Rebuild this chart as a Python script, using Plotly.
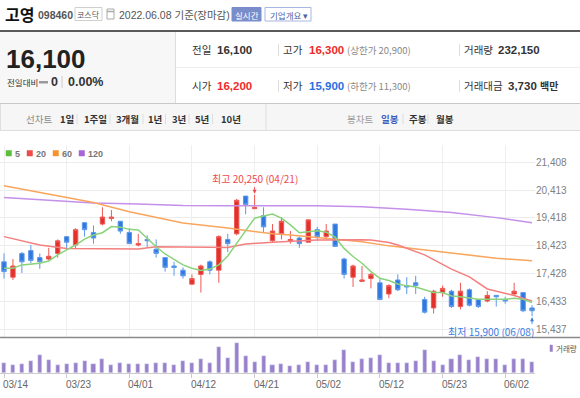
import plotly.graph_objects as go

# ---------------- data ----------------
dates = [
    "2022-03-14", "2022-03-15", "2022-03-16", "2022-03-17", "2022-03-18",
    "2022-03-21", "2022-03-22", "2022-03-23", "2022-03-24", "2022-03-25",
    "2022-03-28", "2022-03-29", "2022-03-30", "2022-03-31", "2022-04-01",
    "2022-04-04", "2022-04-05", "2022-04-06", "2022-04-07", "2022-04-08",
    "2022-04-11", "2022-04-12", "2022-04-13", "2022-04-14", "2022-04-15",
    "2022-04-18", "2022-04-19", "2022-04-20", "2022-04-21", "2022-04-22",
    "2022-04-25", "2022-04-26", "2022-04-27", "2022-04-28", "2022-04-29",
    "2022-05-02", "2022-05-03", "2022-05-04", "2022-05-06",
    "2022-05-09", "2022-05-10", "2022-05-11", "2022-05-12", "2022-05-13",
    "2022-05-16", "2022-05-17", "2022-05-18", "2022-05-19", "2022-05-20",
    "2022-05-23", "2022-05-24", "2022-05-25", "2022-05-26", "2022-05-27",
    "2022-05-30", "2022-05-31", "2022-06-02", "2022-06-03",
    "2022-06-07", "2022-06-08",
]
opens = [17850, 17300, 18150, 18250, 18000, 17950, 18150, 18750, 18450, 19250,
         18900, 19200, 19400, 19300, 18900, 18450, 18650, 18300, 18000, 17700,
         17550, 17050, 17400, 17850, 17550, 18650, 18850, 20200, 19750, 19500,
         18600, 18850, 18600, 18700, 18550, 19000, 18750, 19200, 17950, 17300,
         17150, 17250, 17100, 16700, 17200, 17000, 17100, 16500, 16200, 16750,
         16800, 16250, 16850, 16500, 16450, 16650, 16500, 16700, 16750, 16200]
highs = [18150, 17950, 18200, 18450, 18150, 18350, 18650, 18750, 19050, 19250,
         19150, 19800, 19700, 19300, 19050, 18850, 18800, 18650, 18000, 17850,
         17650, 17400, 17750, 17900, 18800, 18850, 20100, 20200, 20250, 19800,
         19200, 19450, 18950, 18750, 19350, 19100, 19200, 19200, 18000, 17750,
         17700, 17450, 17250, 17050, 17400, 17300, 17350, 16600, 16850, 17000,
         16850, 17100, 16900, 16500, 16800, 16650, 16600, 17100, 16750, 16300]
lows = [17250, 17200, 17450, 17800, 17600, 17900, 18000, 18300, 18300, 18750,
        18500, 19150, 19300, 18850, 18500, 18400, 18350, 18000, 17500, 17350,
        17250, 17050, 16750, 17400, 17100, 18200, 18800, 19550, 19750, 18900,
        18550, 18650, 18500, 18350, 18550, 18600, 18700, 18400, 17250, 16950,
        17150, 16900, 16500, 16550, 16800, 16700, 16700, 16000, 16000, 16600,
        16200, 16150, 16250, 16200, 16400, 16250, 16350, 16650, 16050, 15900]
closes = [17500, 17700, 17850, 17900, 17850, 18050, 18600, 18550, 19000, 19000,
          18700, 19450, 19450, 18950, 18500, 18500, 18600, 18150, 17650, 17650,
          17350, 17250, 17700, 17550, 18750, 18500, 20050, 19900, 19800, 19100,
          18950, 19300, 18650, 18500, 19350, 18750, 18950, 18400, 17400, 17700,
          17200, 17400, 16500, 17000, 16850, 16950, 17000, 16050, 16800, 16900,
          16250, 16800, 16300, 16250, 16650, 16600, 16450, 16800, 16100, 16100]
volumes = [212000, 159000, 179000, 245000, 365000, 265000, 159000, 179000, 199000, 245000,
           179000, 285000, 159000, 199000, 179000, 179000, 179000, 199000, 212000, 159000,
           245000, 199000, 285000, 199000, 517000, 312000, 597000, 352000, 232000, 345000,
           159000, 179000, 146000, 159000, 232000, 159000, 159000, 265000, 464000, 232000,
           285000, 298000, 365000, 199000, 212000, 212000, 245000, 464000, 245000, 159000,
           285000, 365000, 265000, 332000, 285000, 285000, 159000, 285000, 285000, 232150]

ma5 = [17620, 17620, 17740, 17770, 17800, 17880, 18100, 18280, 18450, 18660,
       18810, 18890, 19110, 19090, 19010, 18990, 18690, 18390, 18130, 17920,
       17740, 17620, 17540, 17590, 17740, 18060, 18510, 18990, 19410, 19490,
       19560, 19410, 19170, 18890, 18930, 18960, 18910, 18730, 18330, 18040,
       17800, 17500, 17260, 17180, 17060, 16990, 16950, 16850, 16750, 16750,
       16630, 16600, 16550, 16510, 16510, 16510, 16510, 16550, 16510, 16390]
ma20_idx = [0, 4, 7, 10, 15, 17, 20, 23, 25, 27, 30, 35, 40, 41, 43, 44, 47, 50, 52, 54, 57, 59]
ma20_val = [18750, 18450, 18330, 18320, 18310, 18390, 18390, 18370, 18360, 18490, 18550,
            18630, 18640, 18630, 18540, 18450, 18100, 17590, 17310, 16880, 16645, 16450]
ma60_idx = [0, 10, 14, 20, 25, 30, 32, 37, 40, 43, 49, 55, 59]
ma60_val = [20570, 19970, 19640, 19240, 19060, 18850, 18810, 18670, 18570, 18420, 18200, 17980, 17890]
ma120_idx = [0, 5, 10, 15, 20, 25, 30, 35, 40, 45, 50, 55, 59]
ma120_val = [20150, 20040, 19950, 19920, 19860, 19850, 19850, 19850, 19820, 19730, 19610, 19430, 19250]

tick_idx = [0, 7, 14, 21, 28, 35, 42, 49, 56]
tick_labels = ["03/14", "03/23", "04/01", "04/12", "04/21", "05/02", "05/12", "05/23", "06/02"]
price_ticks = [15437, 16433, 17428, 18423, 19418, 20413, 21408]

# ---------------- layout helpers ----------------
W, H = 580, 398
FONT = "Liberation Sans, Noto Sans CJK KR, sans-serif"
KFONT = "Noto Sans CJK KR, Liberation Sans, sans-serif"


def px(x):
    return x / W


def py(y):
    return 1 - y / H


fig = go.Figure()

fig.add_trace(go.Candlestick(
    x=dates, open=opens, high=highs, low=lows, close=closes,
    increasing=dict(line=dict(color="#ee5a55", width=1), fillcolor="#e2302b"),
    decreasing=dict(line=dict(color="#5d98ea", width=1), fillcolor="#2f78e0"),
    whiskerwidth=0, showlegend=False, hoverinfo="skip", xaxis="x", yaxis="y"))

ma_specs = [
    ([dates[i] for i in ma120_idx], ma120_val, "#c490ea"),
    ([dates[i] for i in ma60_idx], ma60_val, "#f9a55c"),
    ([dates[i] for i in ma20_idx], ma20_val, "#f47f7f"),
    (dates, ma5, "#8ad37a"),
]
for xs, ys, col in ma_specs:
    fig.add_trace(go.Scatter(x=xs, y=ys, mode="lines", line=dict(color=col, width=1.5),
                             showlegend=False, hoverinfo="skip", xaxis="x", yaxis="y"))

fig.add_trace(go.Bar(x=dates, y=volumes, marker_color="#9a80cb", width=0.45,
                     showlegend=False, hoverinfo="skip", xaxis="x2", yaxis="y2"))

tickdates = [dates[i] for i in tick_idx]
y_top_px, y_bot_px = 145, 337
scale = (21408 - 15437) / (329.3 - 162.3)
p_top = 21408 + (162.3 - y_top_px) * scale
p_bot = 21408 - (y_bot_px - 162.3) * scale

fig.update_layout(
    width=W, height=H, margin=dict(l=0, r=0, t=0, b=0),
    paper_bgcolor="white", plot_bgcolor="white",
    font=dict(family=FONT, color="#333"),
    xaxis=dict(domain=[0, px(535)], type="category", range=[-0.447, 59.33],
               tickvals=tickdates, showticklabels=False, showgrid=True,
               gridcolor="#efefef", zeroline=False, rangeslider=dict(visible=False),
               ticks="", anchor="y"),
    yaxis=dict(domain=[py(y_bot_px), py(y_top_px)], range=[p_bot, p_top], side="right",
               tickvals=price_ticks, tickformat=",", showgrid=True, gridcolor="#ececec",
               zeroline=False, ticks="", tickfont=dict(size=10, color="#808080"),
               anchor="x"),
    xaxis2=dict(domain=[0, px(535)], type="category", matches="x", anchor="y2",
                tickvals=tickdates, showticklabels=False, showgrid=False,
                ticks="outside", ticklen=4, tickcolor="#cccccc",
                showline=True, linecolor="#cccccc", zeroline=False),
    yaxis2=dict(domain=[py(373.3), py(337)], range=[0, 722000], visible=False,
                anchor="x2"),
    bargap=0,
)

shapes = []
anns = []


def text(x, y, s, size=11, color="#333", bold=False, anchor="left", family=FONT):
    t = f"<b>{s}</b>" if bold else s
    anns.append(dict(x=px(x), y=py(y), xref="paper", yref="paper", text=t,
                     showarrow=False, xanchor=anchor, yanchor="middle",
                     font=dict(size=size, color=color, family=family)))


def rect(x0, y0, x1, y1, fill=None, line=None, lw=1):
    shapes.append(dict(type="rect", xref="paper", yref="paper",
                       x0=px(x0), x1=px(x1), y0=py(y1), y1=py(y0),
                       fillcolor=fill if fill else "rgba(0,0,0,0)",
                       line=dict(color=line if line else "rgba(0,0,0,0)", width=lw if line else 0),
                       layer="below" if fill and not line else "above"))


def hline(x0, x1, y, color, w=1):
    shapes.append(dict(type="line", xref="paper", yref="paper", x0=px(x0), x1=px(x1),
                       y0=py(y), y1=py(y), line=dict(color=color, width=w)))


def vline(x, y0, y1, color, w=1):
    shapes.append(dict(type="line", xref="paper", yref="paper", x0=px(x), x1=px(x),
                       y0=py(y0), y1=py(y1), line=dict(color=color, width=w)))


# ---------------- header ----------------
text(3, 14, "고영", 16, "#111", True, family=KFONT)
text(36, 15, "098460", 10.5, "#555", True)
rect(75, 7.5, 102, 20.5, line="#cfcfcf")
text(88.5, 14, "코스닥", 8, "#555", anchor="center", family=KFONT)
rect(107, 9, 114, 19, line="#aaaaaa")
hline(107, 114, 11.5, "#aaaaaa", 1.5)
text(117, 15, "2022.06.08 기준(장마감)", 10.5, "#555")
rect(232, 7.5, 261, 21, fill="#7a8dcb", line="#7a8dcb")
text(246.5, 14.5, "실시간", 8.5, "white", anchor="center", family=KFONT)
rect(265, 7.5, 311, 21, line="#a9b6e0")
text(268, 14.5, "기업개요 ▾", 8.5, "#4c61a8", family=KFONT)

hline(0, 580, 31, "#5a5a5a", 2)
rect(0, 32, 175.5, 103.5, fill="#f7f7f7")
vline(175.5, 32, 103.5, "#dddddd")
hline(176, 580, 67.5, "#eeeeee")
hline(0, 580, 103.5, "#c8c8c8")

text(4, 59, "16,100", 26, "#222", True)
text(5, 82, "전일대비", 8.5, "#333", family=KFONT)
rect(39, 81, 48, 83.5, fill="#9a9a9a")
text(49, 82, "0", 12.5, "#333", True)
vline(62, 76, 88, "#cccccc")
text(66, 82, "0.00%", 12.5, "#333", True)

for yy, lab1, v1, c1, lab2, v2, c2, lim, lab3, v3 in [
    (50, "전일", "16,100", "#333", "고가", "16,300", "#f02a2a", "(상한가 20,900)", "거래량", "232,150"),
    (86, "시가", "16,200", "#f02a2a", "저가", "15,900", "#2a6fe0", "(하한가 11,300)", "거래대금", "3,730"),
]:
    text(190, yy, lab1, 10.5, "#333", family=KFONT)
    text(215, yy, v1, 11.5, c1, True)
    vline(278.5, yy - 6, yy + 6, "#dddddd")
    text(281, yy, lab2, 10.5, "#333", family=KFONT)
    text(307, yy, v2, 11.5, c2, True)
    text(345, yy, lim, 9.5, "#888", family=KFONT)
    vline(459.5, yy - 6, yy + 6, "#dddddd")
    text(462, yy, lab3, 10.5, "#333", family=KFONT)
    if lab3 == "거래량":
        text(496, yy, v3, 11.5, "#333", True)
    else:
        text(506, yy, v3 + " <span style='font-size:10px'>백만</span>", 11.5, "#333", True)

# tab row
rect(0, 104, 580, 130.5, fill="#f6f6f6")
hline(0, 580, 130.5, "#dedede")
vline(0.5, 104, 130.5, "#dedede")
vline(266, 104, 130.5, "#dedede")
text(24, 119, "선차트", 9.5, "#8a8a8a", family=KFONT)
for x0, lab in [(58, "1일"), (82, "1주일"), (114, "3개월"), (146, "1년"), (170, "3년"), (193, "5년"), (219, "10년")]:
    text(x0, 119, lab, 9.5, "#333", True, family=KFONT)
for xs in [77, 110, 143, 165.5, 189, 212.5, 403, 428]:
    vline(xs, 114, 124, "#dddddd")
text(345, 119, "봉차트", 9.5, "#9a9a9a", family=KFONT)
text(379, 119, "일봉", 9.5, "#3f5fc0", True, family=KFONT)
text(407, 119, "주봉", 9.5, "#333", True, family=KFONT)
text(434, 119, "월봉", 9.5, "#333", True, family=KFONT)

# chart legend
for x0, col, lab in [(6, "#5cbf3c", "5"), (27, "#ef4b4b", "20"), (53, "#f7922c", "60"), (79, "#a865d9", "120")]:
    rect(x0, 150.5, x0 + 5.5, 156, fill=col, line=col, lw=0.5)
    text(x0 + 7, 153.5, lab, 9, "#777", True)

# separator between panels
hline(0, 580, 337.5, "#8a8a8a", 1.5)

# volume legend
rect(550, 345, 552.5, 351.5, fill="#9a80cb", line="#9a80cb", lw=0.5)
text(554, 348.5, "거래량", 7.5, "#555", family=KFONT)

# x tick labels (left aligned at tick)
for i, lab in zip(tick_idx, tick_labels):
    anns.append(dict(x=dates[i], xref="x2", y=py(384), yref="paper", text=lab,
                     showarrow=False, xanchor="left", xshift=-3, yanchor="middle",
                     font=dict(size=10, color="#666")))

# max / min markers
imax = highs.index(max(highs))
imin = lows.index(min(lows))
anns.append(dict(x=dates[imax], y=highs[imax], xref="x", yref="y",
                 text=f"최고 {highs[imax]:,} ({dates[imax][5:7]}/{dates[imax][8:]})",
                 showarrow=False, yshift=16, xanchor="center", yanchor="middle",
                 font=dict(size=10, color="#f0494b", family=KFONT)))
anns.append(dict(x=dates[imax], y=highs[imax], xref="x", yref="y", text="",
                 showarrow=True, ax=0, ay=-9, arrowhead=2, arrowsize=0.8, arrowwidth=1,
                 arrowcolor="#f0494b", standoff=1))
anns.append(dict(x=dates[imin], y=lows[imin], xref="x", yref="y",
                 text=f"최저 {lows[imin]:,} ({dates[imin][5:7]}/{dates[imin][8:]})",
                 showarrow=False, yshift=-15, xanchor="right", xshift=4, yanchor="middle",
                 font=dict(size=10, color="#3a7ee0", family=KFONT)))
anns.append(dict(x=dates[imin], y=lows[imin], xref="x", yref="y", text="",
                 showarrow=True, ax=0, ay=9, arrowhead=2, arrowsize=0.8, arrowwidth=1,
                 arrowcolor="#3a7ee0", standoff=1))

fig.update_layout(shapes=shapes, annotations=anns)
fig.write_html("out.html", config={"displayModeBar": False},
               post_script="document.body.style.margin='0';document.body.style.padding='0';")
